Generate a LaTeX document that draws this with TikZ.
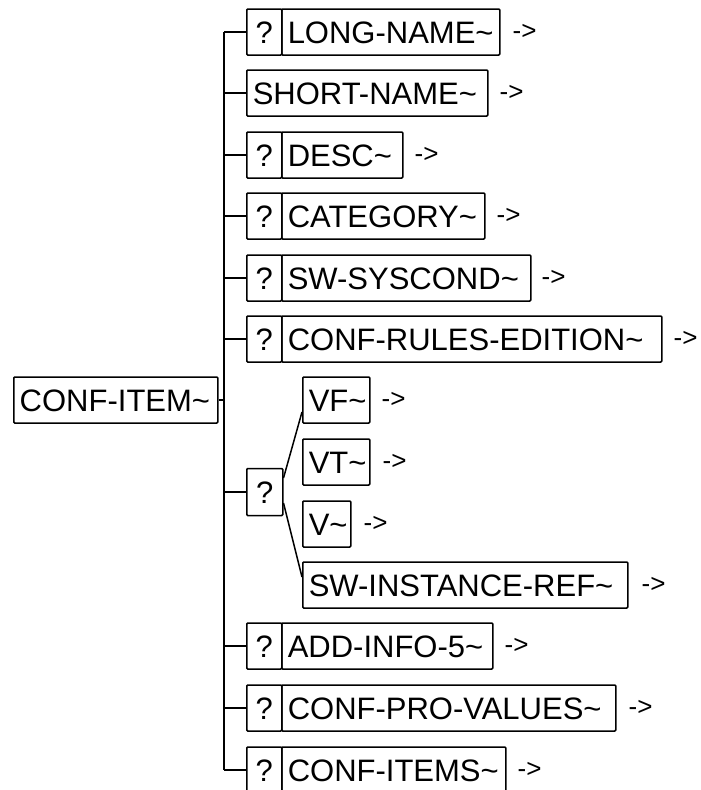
\documentclass[tikz,border=0pt]{standalone}
\usepackage{fontspec}
\setmainfont{Liberation Sans}
\begin{document}
\begin{tikzpicture}[x=1pt,y=-1pt,
  every node/.style={font=\fontsize{31}{31}\selectfont, inner sep=0pt, text height=22pt, text depth=0pt},
  box/.style={draw, line width=1.5pt, rounded corners=1pt, minimum height=46pt, anchor=west},
  qbox/.style={box, minimum width=35pt},
  nbox/.style={box, text width=#1, align=left, inner xsep=6pt},
  arr/.style={anchor=west, font=\fontsize{26}{26}\selectfont, text height=15pt},
  wire/.style={line width=1.5pt}]
\useasboundingbox (0,0) rectangle (701,790);

% root
\node[nbox=192pt] (root) at (13,400) {CONF-ITEM\textasciitilde};

% rows
\node[qbox] (q1) at (246,32) {?};
\node[nbox=206pt] (n1) at (281,32) {LONG-NAME\textasciitilde};
\node[arr] (a1) at ([xshift=12pt]n1.east) {->};

\node[nbox=229pt] (s2) at (246,93) {SHORT-NAME\textasciitilde};
\node[arr] (a2) at ([xshift=11pt]s2.east) {->};

\node[qbox] (q3) at (246,155) {?};
\node[nbox=109pt] (n3) at (281,155) {DESC\textasciitilde};
\node[arr] (a3) at ([xshift=11pt]n3.east) {->};

\node[qbox] (q4) at (246,216) {?};
\node[nbox=191pt] (n4) at (281,216) {CATEGORY\textasciitilde};
\node[arr] (a4) at ([xshift=11pt]n4.east) {->};

\node[qbox] (q5) at (246,278) {?};
\node[nbox=237pt] (n5) at (281,278) {SW-SYSCOND\textasciitilde};
\node[arr] (a5) at ([xshift=10pt]n5.east) {->};

\node[qbox] (q6) at (246,339) {?};
\node[nbox=368pt] (n6) at (281,339) {CONF-RULES-EDITION\textasciitilde};
\node[arr] (a6) at ([xshift=11pt]n6.east) {->};

% choice group
\node[qbox, minimum width=36pt, minimum height=47pt] (qc) at (246,492) {?};
\node[nbox=55pt] (vf) at (302,400) {VF\textasciitilde};
\node[arr] (avf) at ([xshift=11pt]vf.east) {->};
\node[nbox=55pt] (vt) at (302,462) {VT\textasciitilde};
\node[arr] (avt) at ([xshift=12pt]vt.east) {->};
\node[nbox=36pt] (v) at (302,524) {V\textasciitilde};
\node[arr] (av) at ([xshift=12pt]v.east) {->};
\node[nbox=313pt] (swi) at (302,585) {SW-INSTANCE-REF\textasciitilde};
\node[arr] (aswi) at ([xshift=13pt]swi.east) {->};

\node[qbox] (q7) at (246,646) {?};
\node[nbox=199pt] (n7) at (281,646) {ADD-INFO-5\textasciitilde};
\node[arr] (a7) at ([xshift=11pt]n7.east) {->};

\node[qbox] (q8) at (246,708) {?};
\node[nbox=322pt] (n8) at (281,708) {CONF-PRO-VALUES\textasciitilde};
\node[arr] (a8) at ([xshift=12pt]n8.east) {->};

\node[qbox] (q9) at (246,770) {?};
\node[nbox=212pt] (n9) at (281,770) {CONF-ITEMS\textasciitilde};
\node[arr] (a9) at ([xshift=11pt]n9.east) {->};

% trunk
\coordinate (tTop) at (224,32);
\coordinate (tBot) at (224,770);
\draw[wire] (root.east) -- (root.east -| tTop);
\draw[wire] (tTop) -- (tBot);
\foreach \n in {q1,s2,q3,q4,q5,q6,qc,q7,q8,q9}
  \draw[wire] (\n.west) -- (\n.west -| tTop);

% fan
\draw[wire] ([yshift=14pt]qc.east) -- ([yshift=-12pt]vf.west);
\draw[wire] ([yshift=-11pt]qc.east) -- ([yshift=8pt]swi.west);
\end{tikzpicture}
\end{document}
